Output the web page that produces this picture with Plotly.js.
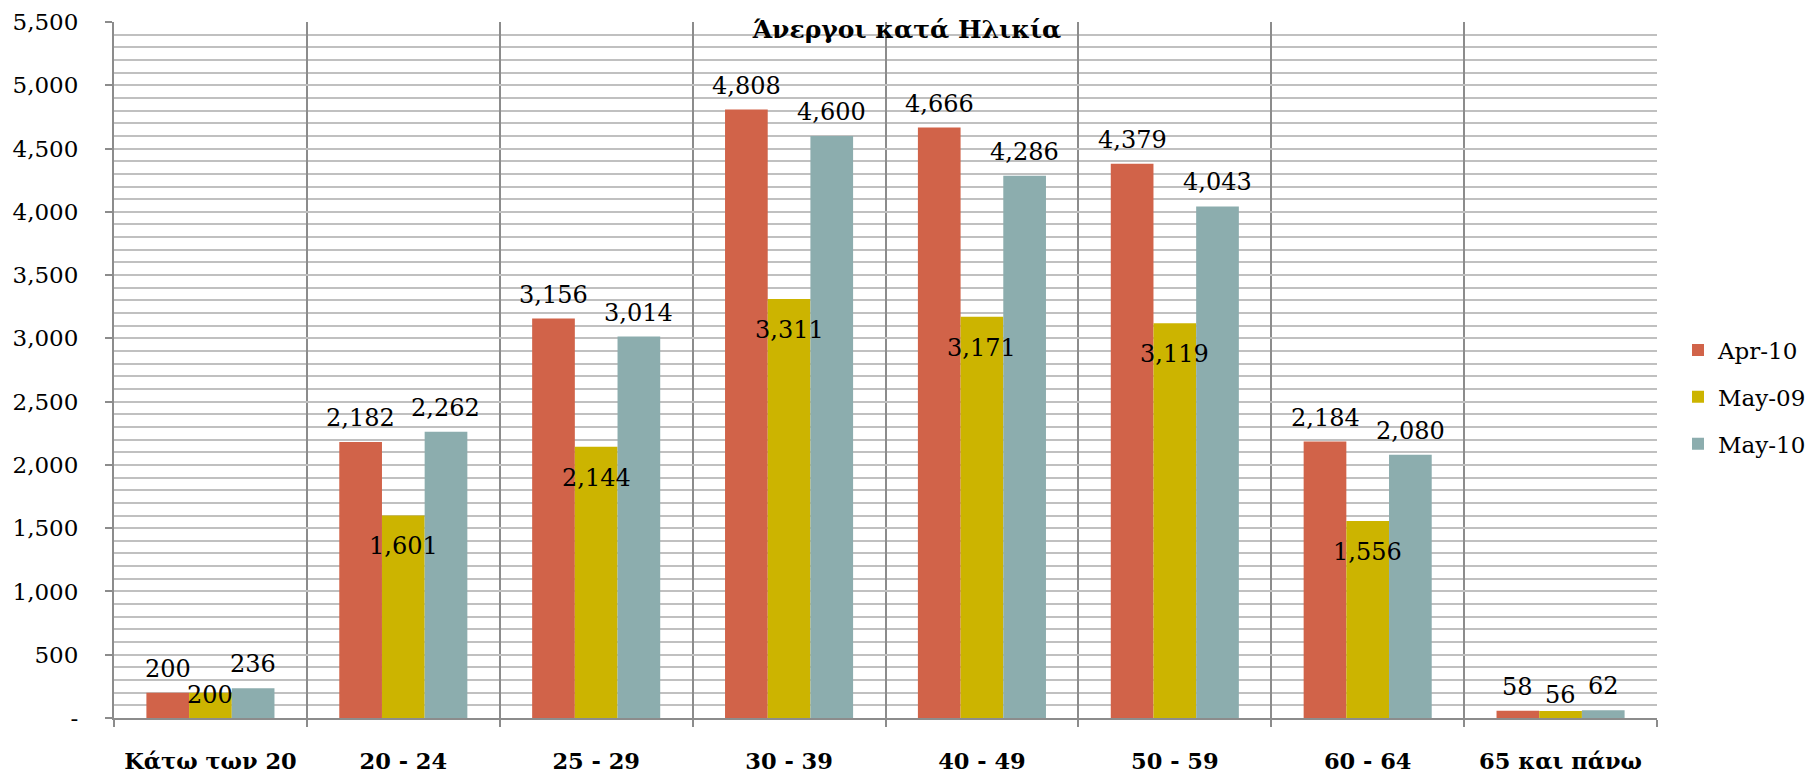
<!DOCTYPE html>
<html><head><meta charset="utf-8">
<script src="https://cdn.plot.ly/plotly-3.0.1.min.js"></script>
<style>html,body{margin:0;padding:0;background:#fff}</style>
</head><body>
<div id="chart" style="width:1814px;height:773px"></div>
<script>
const categories = ['Κάτω των 20', '20 - 24', '25 - 29', '30 - 39', '40 - 49', '50 - 59', '60 - 64', '65 και πάνω'];
const apr10 = [200, 2182, 3156, 4808, 4666, 4379, 2184, 58];
const may09 = [200, 1601, 2144, 3311, 3171, 3119, 1556, 56];
const may10 = [236, 2262, 3014, 4600, 4286, 4043, 2080, 62];
const seriesNames = ['Apr-10', 'May-09', 'May-10'];
const yTickValues = [0, 500, 1000, 1500, 2000, 2500, 3000, 3500, 4000, 4500, 5000, 5500];
const yTickLabels = ['-', '500', '1,000', '1,500', '2,000', '2,500', '3,000', '3,500', '4,000', '4,500', '5,000', '5,500'];
const chartTitle = 'Άνεργοι κατά Ηλικία';

const colors = ['#D16349', '#CCB400', '#8CADAE'];
const FONT = 'DejaVu Serif, Georgia, serif';
const W = 1814, H = 773;
const M = {l: 114, r: 157, t: 22, b: 55};
const plotW = W - M.l - M.r, plotH = H - M.t - M.b;
const yMax = 5500;
const bargap = 0.336;
const barW = plotW / categories.length * (1 - bargap) / 3;
const LABEL_SIZE = 24;

const seriesData = [apr10, may09, may10];
const traces = seriesData.map((vals, i) => ({
  type: 'bar', name: seriesNames[i], x: categories, y: vals,
  marker: {color: colors[i]}, legendgroup: 'g' + i, hoverinfo: 'x+y'
}));

const annotations = [];
const fmt = v => v.toLocaleString('en-US');
categories.forEach((c, k) => {
  annotations.push({x: c, y: apr10[k], xref: 'x', yref: 'y', text: fmt(apr10[k]), showarrow: false,
    xshift: -barW, yshift: 24, yanchor: 'middle', font: {family: FONT, size: LABEL_SIZE, color: '#000'}});
  annotations.push({x: c, y: may10[k], xref: 'x', yref: 'y', text: fmt(may10[k]), showarrow: false,
    xshift: barW, yshift: 24, yanchor: 'middle', font: {family: FONT, size: LABEL_SIZE, color: '#000'}});
  const px = may09[k] / yMax * plotH;
  const inside = px - 31 >= 23;
  annotations.push({x: c, y: inside ? may09[k] : 0, xref: 'x', yref: 'y', text: fmt(may09[k]), showarrow: false,
    xshift: 0, yshift: inside ? -31 : 23, yanchor: 'middle', font: {family: FONT, size: LABEL_SIZE, color: '#000'}});
});

const layout = {
  width: W, height: H, margin: M,
  paper_bgcolor: '#fff', plot_bgcolor: '#fff',
  barmode: 'group', bargap: bargap, bargroupgap: 0,
  title: {text: chartTitle, x: 0.5, xref: 'container', y: 1 - 29 / H, yref: 'container', yanchor: 'middle',
    font: {family: FONT, size: 25, color: '#000', weight: 700}},
  font: {family: FONT, color: '#000'},
  showlegend: true,
  legend: {xref: 'container', yref: 'container', x: 1811 / W, xanchor: 'right', y: 1 - 397 / H, yanchor: 'middle',
    font: {family: FONT, size: 23, color: '#000'}, tracegroupgap: 14, bgcolor: 'rgba(0,0,0,0)', borderwidth: 0},
  xaxis: {type: 'category', tickson: 'boundaries', ticks: 'outside', ticklen: 7, tickcolor: '#8c8c8c', tickwidth: 2,
    showgrid: true, gridcolor: '#8c8c8c', gridwidth: 2, showline: true, linecolor: '#8c8c8c', linewidth: 2,
    tickfont: {family: FONT, size: 22.5, color: '#000', weight: 700}, ticklabelstandoff: 22, zeroline: false},
  yaxis: {range: [0, yMax], tickmode: 'array', tickvals: yTickValues, ticktext: yTickLabels,
    ticks: 'outside', ticklen: 7, tickcolor: '#8c8c8c', tickwidth: 2,
    showgrid: true, gridcolor: '#c0c0c0', gridwidth: 2,
    minor: {dtick: 100, tick0: 0, showgrid: true, gridcolor: '#c0c0c0', gridwidth: 2},
    showline: true, linecolor: '#8c8c8c', linewidth: 2, zeroline: false,
    tickfont: {family: FONT, size: 23, color: '#000'}, ticklabelstandoff: 22},
  annotations: annotations
};

Plotly.newPlot('chart', traces, layout, {displayModeBar: false, responsive: false});
</script>
</body></html>
